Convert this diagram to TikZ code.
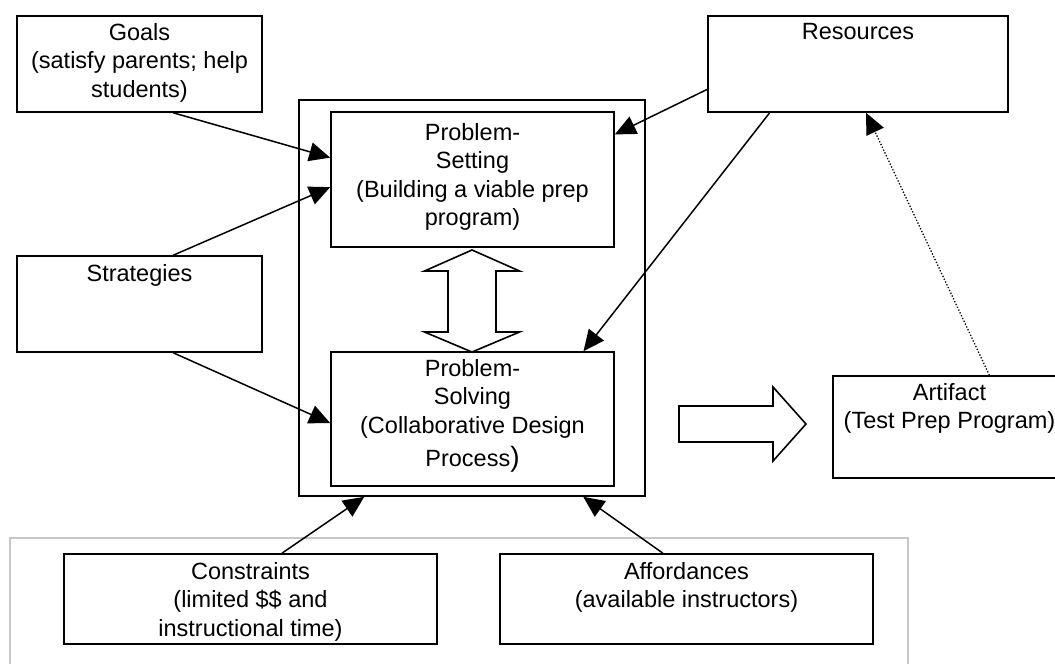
\documentclass[tikz,border=0pt]{standalone}
\usepackage{fontspec}
\setmainfont{Liberation Sans}
\usetikzlibrary{arrows.meta,calc}
\begin{document}
\begin{tikzpicture}[x=1pt,y=-1pt,
  box/.style={draw, rectangle, line width=1.6pt, inner sep=0pt},
  framebox/.style={draw=black!22, rectangle, line width=1.4pt, inner sep=0pt},
  txt/.style={inner sep=0pt, align=center, anchor=north,
              font=\fontsize{23.5}{28.5}\selectfont},
  arr/.style={line width=1.5pt, -{Triangle[length=21pt,width=19pt]}},
  dotarr/.style={line width=1.3pt, dash pattern=on 1.3pt off 1.8pt,
                 -{Triangle[length=21pt,width=19pt]}},
  hollow/.style={draw, line width=1.6pt, line join=miter, fill=white}
]
\useasboundingbox (0,0) rectangle (1055,664);

% boxes
\node[box, minimum width=245pt, minimum height=96pt]  (goals) at (139.5,64) {};
\node[box, minimum width=300pt, minimum height=96pt]  (res)   at (858,64) {};
\node[box, minimum width=245pt, minimum height=96pt]  (strat) at (139.5,304) {};
\node[box, minimum width=346pt, minimum height=396pt] (outer) at (472,298) {};
\node[box, minimum width=283pt, minimum height=135pt] (pset)  at (472.5,179.5) {};
\node[box, minimum width=283pt, minimum height=134pt] (psolve) at (472.5,419) {};
\node[box, minimum width=233pt, minimum height=102pt] (art)   at (949.5,427) {};
\node[framebox, minimum width=898pt, minimum height=142pt] (env) at (459,609) {};
\node[box, minimum width=373pt, minimum height=90pt]  (cons)  at (250.5,599) {};
\node[box, minimum width=373pt, minimum height=90pt]  (aff)   at (686.5,599) {};

% box texts
\node[txt] (goals-t)  at ($(goals.north)+(0,8)$)  {Goals\\(satisfy parents; help\\students)};
\node[txt] (res-t)    at ($(res.north)+(0,8)$)    {Resources};
\node[txt] (strat-t)  at ($(strat.north)+(0,9)$)  {Strategies};
\node[txt] (pset-t)   at ($(pset.north)+(0,12)$)  {Problem-\\Setting\\(Building a viable prep\\program)};
\node[txt] (psolve-t) at ($(psolve.north)+(0,8)$) {Problem-\\Solving\\(Collaborative Design\\[5pt]Process{\fontsize{28}{28.5}\selectfont)}};
\node[txt] (art-t)    at ($(art.north)+(0,8)$)    {Artifact\\(Test Prep Program)};
\node[txt] (cons-t)   at ($(cons.north)+(0,9)$)   {Constraints\\(limited \$\$ and\\instructional time)};
\node[txt] (aff-t)    at ($(aff.north)+(0,9)$)    {Affordances\\(available instructors)};

% connectors
\draw[arr] ($(goals.south west)!0.637!(goals.south east)$) -- ($(pset.north west)!0.34!(pset.south west)$);
\draw[arr] ($(strat.north west)!0.637!(strat.north east)$) -- ($(pset.north west)!0.556!(pset.south west)$);
\draw[arr] ($(strat.south west)!0.637!(strat.south east)$) -- ($(psolve.north west)!0.53!(psolve.south west)$);
\draw[arr] ($(res.north west)!0.76!(res.south west)$) -- ($(pset.north east)!0.17!(pset.south east)$);
\draw[arr] ($(res.south west)!0.207!(res.south east)$) -- ($(psolve.north west)!0.89!(psolve.north east)$);
\draw[arr] ($(cons.north west)!0.584!(cons.north east)$) -- ($(outer.south west)!0.19!(outer.south east)$);
\draw[arr] ($(aff.north west)!0.437!(aff.north east)$) -- ($(outer.south west)!0.82!(outer.south east)$);
\draw[dotarr] ($(art.north west)!0.67!(art.north east)$) -- ($(res.south west)!0.527!(res.south east)$);

% two-way block arrow between setting and solving
\draw[hollow] (472,250) -- (519.5,271) -- (496,271) -- (496,332) -- (519.5,332)
  -- (472,352) -- (424.5,332) -- (448,332) -- (448,271) -- (424.5,271) -- cycle;

% block arrow towards the artifact
\draw[hollow] (679,406) -- (773,406) -- (773,387) -- (806,424) -- (773,461)
  -- (773,442) -- (679,442) -- cycle;
\end{tikzpicture}
\end{document}
